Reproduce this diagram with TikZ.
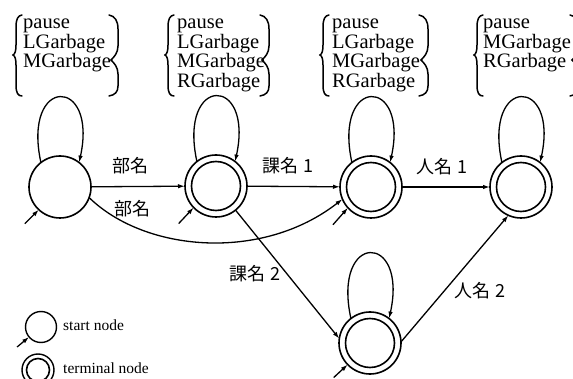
\documentclass[tikz,border=0pt]{standalone}
\usepackage{fontspec}
\setmainfont{Liberation Serif}
\newfontfamily\jpfont{Noto Sans CJK JP}
\usetikzlibrary{arrows.meta}
\begin{document}
\begin{tikzpicture}[x=1pt,y=-1pt,
  snode/.style={circle,draw,line width=1.6pt,minimum size=62pt,inner sep=0pt,outer sep=0pt},
  fnode/.style={snode,path picture={\draw[line width=1.6pt] (path picture bounding box.center) circle (#1);}},
  fnode/.default=24.5pt,
  conn/.style={line width=1.3pt,-{Latex[length=7pt,width=4.5pt]}},
  lbl/.style={font=\fontsize{20.5}{20}\selectfont,anchor=base west,inner sep=0pt},
  jp/.style={font=\jpfont\fontsize{18}{18}\selectfont,inner sep=0pt},
  brc/.style={line width=1.5pt,line cap=round},
  legtext/.style={font=\fontsize{15.5}{15}\selectfont,anchor=west,inner sep=0pt},
  lbrace/.pic={\draw[brc] (9,15) .. controls (5,15.5) and (3,19) .. (3,27) -- (3,45)
      .. controls (3,51) and (2,54) .. (0,55) .. controls (2,56) and (3,59) .. (3,65)
      -- (3,85) .. controls (3,93) and (5,96) .. (9,96);},
  rbrace/.pic={\draw[brc] (-9,15) .. controls (-3,16) and (0,21) .. (0,29) -- (0,46)
      .. controls (0,53) and (-4,57) .. (-7,60) .. controls (-4,63) and (0,67) .. (0,74)
      -- (0,86) .. controls (0,92) and (-3,95) .. (-9,96);}
]
\useasboundingbox (0,0) rectangle (573,379);

% label groups
\pic at (13,0) {lbrace}; \pic at (118,0) {rbrace};
\node[lbl] (a1) at (23,29) {pause};
\node[lbl] (a2) at (23,48.5) {LGarbage};
\node[lbl] (a3) at (23,68) {MGarbage};

\pic at (165,0) {lbrace}; \pic at (269,0) {rbrace};
\node[lbl] (b1) at (177,29) {pause};
\node[lbl] (b2) at (177,48.5) {LGarbage};
\node[lbl] (b3) at (177,68) {MGarbage};
\node[lbl] (b4) at (177,87.5) {RGarbage};

\pic at (320,0) {lbrace}; \pic at (428,0) {rbrace};
\node[lbl] (c1) at (332,29) {pause};
\node[lbl] (c2) at (332,48.5) {LGarbage};
\node[lbl] (c3) at (332,68) {MGarbage};
\node[lbl] (c4) at (332,87.5) {RGarbage};

\pic at (474,0) {lbrace}; \pic at (579,0) {rbrace};
\node[lbl] (d1) at (483,29) {pause};
\node[lbl] (d2) at (483,48.5) {MGarbage};
\node[lbl] (d3) at (483,68) {RGarbage};

% states
\node[snode] (n1) at (60,187) {};
\node[fnode] (n2) at (216,186) {};
\node[fnode] (n3) at (371,187) {};
\node[fnode] (n4) at (521,187) {};
\node[fnode] (n5) at (370,343) {};

% self loops
\foreach \n in {n1,n2,n3,n4,n5}{
  \draw[conn] (\n.128) .. controls +(-19,-87) and +(19,-87) .. (\n.52);
}

% transitions
\draw[conn] (n1) -- (n2);
\draw[conn] (n2) -- (n3);
\draw[conn] (n3) -- (n4);
\draw[conn] (n1.-20) .. controls (145,252) and (262,262) .. (n3.-157);
\draw[conn] (n2.-51) -- (n5.172);
\draw[conn] (n5.2) -- (n4.246);

% initial arrows
\draw[conn] ([shift={(-14,14)}]n1.227) -- (n1.227);
\draw[conn] ([shift={(-15,16)}]n2.224) -- (n2.224);
\draw[conn] ([shift={(-15,17)}]n3.222) -- (n3.222);
\draw[conn] ([shift={(-14,13)}]n5.224) -- (n5.224);

% edge labels
\node[jp] (l12) at (130,166) {部名};
\node[jp] (l13) at (132,209) {部名};
\node[jp] (l23) at (288,166) {課名 1};
\node[jp] (l34) at (442,167) {人名 1};
\node[jp] (l25) at (255,274) {課名 2};
\node[jp] (l54) at (480,291) {人名 2};

% legend
\node[snode,minimum size=31pt,line width=1.4pt] (ls) at (41,327) {};
\draw[conn] ([shift={(-12,10)}]ls.220) -- (ls.220);
\node[legtext] (lst) at (63,325) {start node};
\node[fnode=11.5pt,minimum size=32pt,line width=1.4pt] (lt) at (38,370) {};
\node[legtext] (ltt) at (63,368) {terminal node};
\end{tikzpicture}
\end{document}
